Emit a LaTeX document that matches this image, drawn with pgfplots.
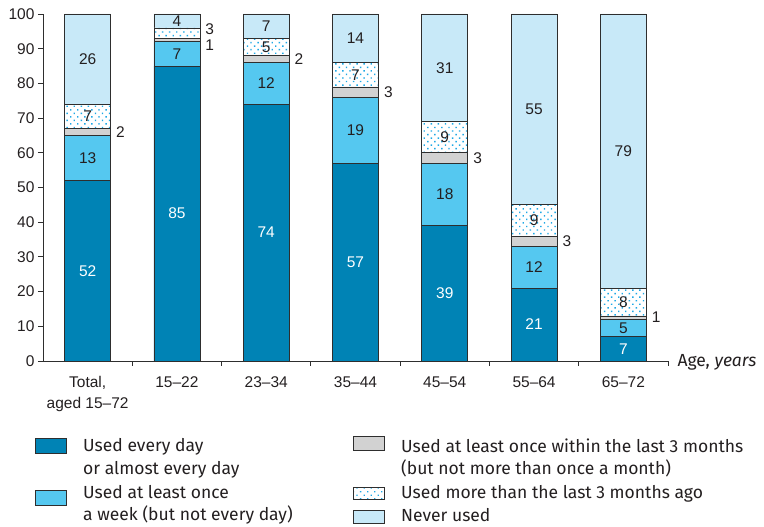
\documentclass[border=0pt]{standalone}
\usepackage{pgfplots}
\pgfplotsset{compat=1.18}
\usetikzlibrary{patterns.meta}
\usepackage{fontspec}
\setmainfont{Liberation Sans}
\newfontfamily\legfont{Fira Sans}
\definecolor{cDark}{HTML}{0083B5}
\definecolor{cLight}{HTML}{55C8F0}
\definecolor{cGray}{HTML}{D2D2D2}
\definecolor{cNever}{HTML}{C8E9F8}
\definecolor{cDots}{HTML}{1EA8E6}
\definecolor{cEdge}{HTML}{2E2E2E}
\definecolor{cText}{HTML}{231F20}

\pgfplotstableread{
x daily weekly months older never
0 52 13 2 7 26
1 85 7 1 3 4
2 74 12 2 5 7
3 57 19 3 7 14
4 39 18 3 9 31
5 21 12 3 9 55
6 7 5 1 8 79
}\datatable

\newcommand{\lblfont}{\fontsize{15.5}{21}\selectfont}
\newcommand{\legf}{\legfont\fontsize{17.5}{21}\selectfont}

\begin{document}
\begin{tikzpicture}[x=1pt,y=1pt]
\useasboundingbox (-43,-166) rectangle (721,361);
\pgfplotsset{common/.style={
  width=625pt, height=347pt, scale only axis,
  xmin=-0.5, xmax=6.5, ymin=0, ymax=100,
  at={(0,0)}, anchor=south west, clip=false,
}}
\begin{axis}[common,
  ybar stacked, bar width=0.515,
  axis lines*=left,
  axis line style={cEdge, line width=0.8pt},
  ytick={0,10,...,100},
  xtick={0.5,1.5,...,6.5},
  xticklabels={,,,,,,,},
  extra x ticks={0,1,2,3,4,5,6},
  extra x tick labels={{Total,\\aged 15--72},15--22,23--34,35--44,45--54,55--64,65--72},
  extra x tick style={major tick length=0pt},
  xticklabel style={align=center, font=\lblfont, text=cText, yshift=-12pt},
  yticklabel style={font=\lblfont, text=cText},
  tick align=outside,
  tick style={cEdge, line width=0.8pt},
  major tick length=5pt,
  /pgf/number format/assume math mode=true,
  every axis plot/.append style={draw=cEdge, line width=0.7pt},
]
\addplot[fill=cDark] table[x=x,y=daily]{\datatable};
\addplot[fill=cLight] table[x=x,y=weekly]{\datatable};
\addplot[fill=cGray] table[x=x,y=months]{\datatable};
\addplot[fill=white, postaction={pattern={Dots[distance=5pt,radius=1pt,angle=45]}, pattern color=cDots}] table[x=x,y=older]{\datatable};
\addplot[fill=cNever] table[x=x,y=never]{\datatable};
\node[anchor=base west, font=\legf, text=cText] at (axis cs:6.5,0) [xshift=6pt, yshift=-6pt] {Age, \textit{years}};
\end{axis}

\begin{axis}[common, hide axis,
  point meta=explicit symbolic,
  nodes near coords,
  nodes near coords align=center,
  every node near coord/.append style={font=\lblfont, text=cText},
]
\addplot[draw=none, mark=none, nodes near coords style={text=white}] coordinates {
(0,26)[52] (1,42.5)[85] (2,37)[74] (3,28.5)[57] (4,19.5)[39] (5,10.5)[21] (6,3.5)[7]};
\addplot[draw=none, mark=none] coordinates {
(0,58.5)[13] (1,88.5)[7] (2,80)[12] (3,66.5)[19] (4,48)[18] (5,27)[12] (6,9.5)[5]};
\addplot[draw=none, mark=none, nodes near coords style={anchor=west}] coordinates {
(0.28,66)[2] (1.28,91)[1] (2.28,87)[2] (3.28,77.5)[3] (4.28,58.5)[3] (5.28,34.5)[3] (6.28,12.5)[1]};
\addplot[draw=none, mark=none] coordinates {
(0,70.5)[7] (2,90.5)[5] (3,82.5)[7] (4,64.5)[9] (5,40.5)[9] (6,17)[8]};
\addplot[draw=none, mark=none, nodes near coords style={anchor=west}] coordinates {
(1.28,95.5)[3]};
\addplot[draw=none, mark=none] coordinates {
(0,87)[26] (1,98)[4] (2,96.5)[7] (3,93)[14] (4,84.5)[31] (5,72.5)[55] (6,60.5)[79]};
\end{axis}

% legend
\begin{scope}[yshift=2pt, every node/.style={anchor=base west, font=\legf, text=cText, inner sep=0pt}]
\filldraw[fill=cDark, draw=cEdge, line width=0.7pt] (-8,-79) rectangle (23,-94);
\filldraw[fill=cLight, draw=cEdge, line width=0.7pt] (-8,-131) rectangle (23,-146);
\node at (40,-93) {Used every day};
\node at (40,-116) {or almost every day};
\node at (40,-140) {Used at least once};
\node at (40,-162) {a week (but not every day)};
\filldraw[fill=cGray, draw=cEdge, line width=0.7pt] (310,-77) rectangle (341,-91);
\fill[white] (310,-128) rectangle (341,-140);
\fill[pattern={Dots[distance=5pt,radius=0.9pt,angle=45]}, pattern color=cDots] (310,-128) rectangle (341,-140);
\draw[cEdge, line width=0.7pt] (310,-128) rectangle (341,-140);
\filldraw[fill=cNever, draw=cEdge, line width=0.7pt] (310,-151) rectangle (341,-164);
\node at (358,-94) {Used at least once within the last 3 months};
\node at (358,-116) {(but not more than once a month)};
\node at (358,-140) {Used more than the last 3 months ago};
\node at (358,-163) {Never used};
\end{scope}
\end{tikzpicture}
\end{document}
